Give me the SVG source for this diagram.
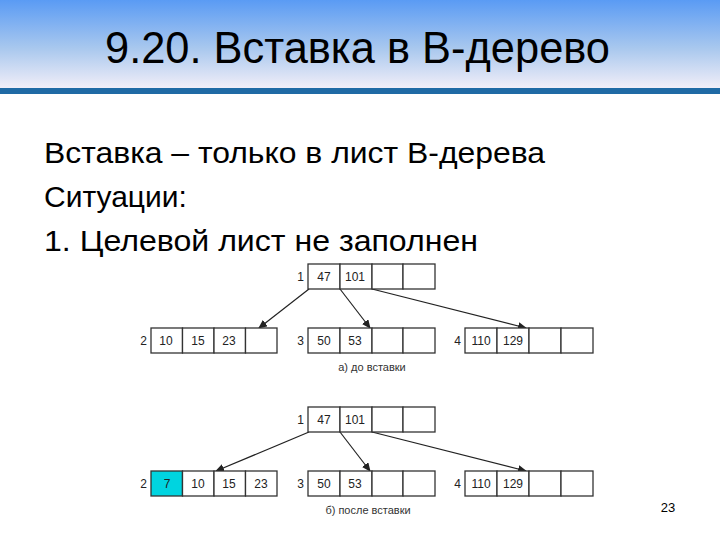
<svg xmlns="http://www.w3.org/2000/svg" width="720" height="540" viewBox="0 0 720 540">
<style>
.t{font-family:"Liberation Sans",Arial,sans-serif;fill:#000}
.c{fill:#fff;stroke:#333;stroke-width:1.3}
.n{font-family:"Liberation Sans",Arial,sans-serif;font-size:12px;fill:#222;text-anchor:middle}
.l{font-family:"Liberation Sans",Arial,sans-serif;font-size:12px;fill:#222;text-anchor:end}
.cap{font-family:"Liberation Sans",Arial,sans-serif;font-size:11px;fill:#333;text-anchor:middle}
.e{stroke:#222;stroke-width:1.2;fill:none;marker-end:url(#a)}
</style>
<defs>
<linearGradient id="g" x1="0" y1="0" x2="0" y2="1">
<stop offset="0" stop-color="#5a9bf4"/><stop offset="0.55" stop-color="#a9c8ee"/><stop offset="1" stop-color="#f1eef8"/>
</linearGradient>
<marker id="a" markerWidth="9" markerHeight="8" refX="8" refY="4" orient="auto" markerUnits="userSpaceOnUse">
<path d="M0,0 L9,4 L0,8 Z" fill="#222"/>
</marker>
</defs>
<rect width="720" height="540" fill="#fff"/>
<rect width="720" height="88" fill="url(#g)"/>
<rect y="88" width="720" height="6" fill="#1f6aa5"/>
<text class="t" x="105" y="63" font-size="44" textLength="505" lengthAdjust="spacingAndGlyphs">9.20. Вставка в B-дерево</text>
<text class="t" x="44" y="163" font-size="30" textLength="501" lengthAdjust="spacingAndGlyphs">Вставка – только в лист B-дерева</text>
<text class="t" x="44" y="207" font-size="30">Ситуации:</text>
<text class="t" x="44" y="251" font-size="30" textLength="434" lengthAdjust="spacingAndGlyphs">1. Целевой лист не заполнен</text>

<g id="connectors-a">
<line class="e" x1="309" y1="289" x2="259" y2="328"/>
<line class="e" x1="340" y1="289" x2="370" y2="328"/>
<line class="e" x1="372" y1="289" x2="526" y2="328"/>
</g>
<g id="a-node1">
<rect class="c" x="308" y="264" width="32" height="25"/><rect class="c" x="340" y="264" width="32" height="25"/><rect class="c" x="372" y="264" width="31" height="25"/><rect class="c" x="403" y="264" width="32" height="25"/>
<text class="l" x="304" y="281">1</text><text class="n" x="324" y="281">47</text><text class="n" x="355" y="281">101</text>
</g>
<g id="a-node2">
<rect class="c" x="151" y="328" width="31.5" height="25"/><rect class="c" x="182.5" y="328" width="31.5" height="25"/><rect class="c" x="214" y="328" width="31.5" height="25"/><rect class="c" x="245.5" y="328" width="31.5" height="25"/>
<text class="l" x="147" y="345">2</text><text class="n" x="166" y="345">10</text><text class="n" x="198" y="345">15</text><text class="n" x="229" y="345">23</text>
</g>
<g id="a-node3">
<rect class="c" x="308" y="328" width="32" height="25"/><rect class="c" x="340" y="328" width="32" height="25"/><rect class="c" x="372" y="328" width="31" height="25"/><rect class="c" x="403" y="328" width="32" height="25"/>
<text class="l" x="304" y="345">3</text><text class="n" x="324" y="345">50</text><text class="n" x="355" y="345">53</text>
</g>
<g id="a-node4">
<rect class="c" x="465" y="328" width="32" height="25"/><rect class="c" x="497" y="328" width="32" height="25"/><rect class="c" x="529" y="328" width="32" height="25"/><rect class="c" x="561" y="328" width="32" height="25"/>
<text class="l" x="461" y="345">4</text><text class="n" x="481" y="345">110</text><text class="n" x="513" y="345">129</text>
</g>
<text class="cap" x="372" y="371">а) до вставки</text>

<g id="connectors-b">
<line class="e" x1="309" y1="432" x2="216" y2="471"/>
<line class="e" x1="340" y1="432" x2="370" y2="471"/>
<line class="e" x1="372" y1="432" x2="526" y2="471"/>
</g>
<g id="b-node1">
<rect class="c" x="308" y="407" width="32" height="25"/><rect class="c" x="340" y="407" width="32" height="25"/><rect class="c" x="372" y="407" width="31" height="25"/><rect class="c" x="403" y="407" width="32" height="25"/>
<text class="l" x="304" y="424">1</text><text class="n" x="324" y="424">47</text><text class="n" x="355" y="424">101</text>
</g>
<g id="b-node2">
<rect class="c" x="151" y="471" width="31.5" height="25" style="fill:#00d4e0"/><rect class="c" x="182.5" y="471" width="31.5" height="25"/><rect class="c" x="214" y="471" width="31.5" height="25"/><rect class="c" x="245.5" y="471" width="31.5" height="25"/>
<text class="l" x="147" y="488">2</text><text class="n" x="167" y="488">7</text><text class="n" x="198" y="488">10</text><text class="n" x="229" y="488">15</text><text class="n" x="261" y="488">23</text>
</g>
<g id="b-node3">
<rect class="c" x="308" y="471" width="32" height="25"/><rect class="c" x="340" y="471" width="32" height="25"/><rect class="c" x="372" y="471" width="31" height="25"/><rect class="c" x="403" y="471" width="32" height="25"/>
<text class="l" x="304" y="488">3</text><text class="n" x="324" y="488">50</text><text class="n" x="355" y="488">53</text>
</g>
<g id="b-node4">
<rect class="c" x="465" y="471" width="32" height="25"/><rect class="c" x="497" y="471" width="32" height="25"/><rect class="c" x="529" y="471" width="32" height="25"/><rect class="c" x="561" y="471" width="32" height="25"/>
<text class="l" x="461" y="488">4</text><text class="n" x="481" y="488">110</text><text class="n" x="513" y="488">129</text>
</g>
<text class="cap" x="368" y="514">б) после вставки</text>
<text class="t" x="668" y="512" font-size="13" text-anchor="middle">23</text>
</svg>
